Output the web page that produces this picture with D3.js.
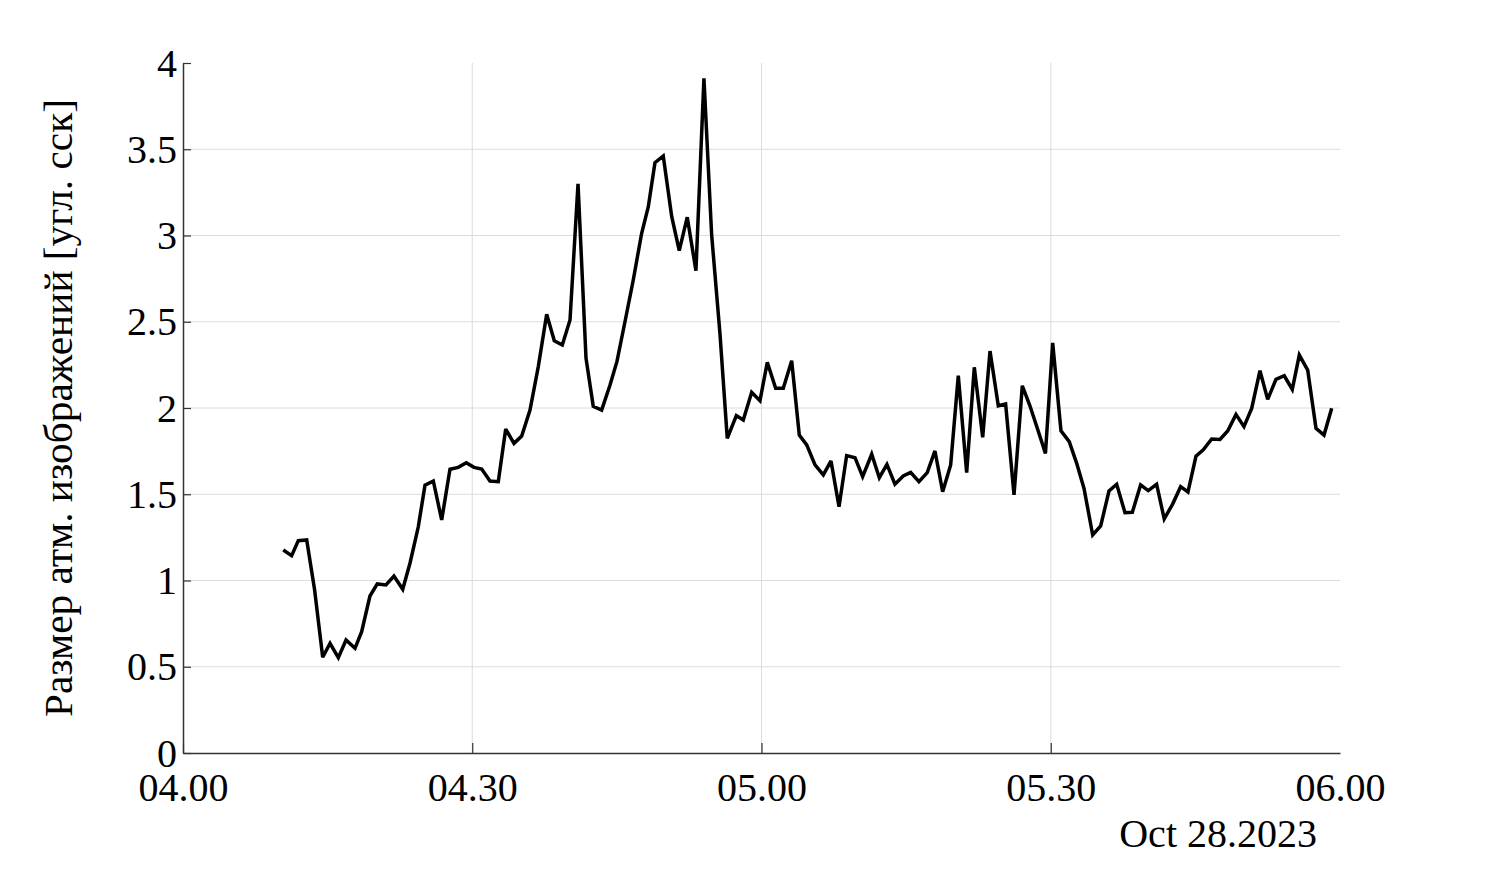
<!DOCTYPE html>
<html>
<head>
<meta charset="utf-8">
<script src="https://cdn.jsdelivr.net/npm/d3@7"></script>
<style>
  html, body { margin: 0; padding: 0; background: #ffffff; }
  svg { display: block; }
  text { font-family: "Liberation Serif", "Times New Roman", serif; fill: #000; }
</style>
</head>
<body>
<svg id="chart" width="1485" height="889"></svg>
<script>
// Minutes after 04:00 on Oct 28, 2023
const minutes = [
  10.40, 11.27, 11.96, 12.83, 13.64, 14.49, 15.25, 16.11, 16.91, 17.84,
  18.53, 19.39, 20.15, 21.05, 21.88, 22.79, 23.54, 24.40, 25.10, 25.96,
  26.83, 27.69, 28.55, 29.38, 30.18, 30.98, 31.84, 32.70, 33.47, 34.33,
  35.13, 35.99, 36.85, 37.72, 38.51, 39.34, 40.14, 40.97, 41.80, 42.55,
  43.42, 44.29, 45.01, 45.84, 46.70, 47.57, 48.26, 48.95, 49.81, 50.69,
  51.47, 52.30, 53.20, 54.03, 54.83, 55.69, 56.45, 57.39, 58.11, 58.98,
  59.84, 60.60, 61.47, 62.26, 63.13, 63.92, 64.69, 65.55, 66.41, 67.21,
  68.04, 68.83, 69.70, 70.49, 71.43, 72.22, 73.01, 73.84, 74.70, 75.47,
  76.33, 77.19, 77.99, 78.79, 79.62, 80.41, 81.28, 82.07, 82.94, 83.70,
  84.56, 85.32, 86.19, 87.05, 87.84, 88.64, 89.45, 90.20, 91.06, 91.92,
  92.69, 93.45, 94.35, 95.18, 96.04, 96.84, 97.70, 98.46, 99.32, 100.11,
  100.98, 101.77, 102.64, 103.47, 104.23, 105.06, 105.82, 106.69, 107.55, 108.35,
  109.21, 110.04, 110.84, 111.70, 112.50, 113.36, 114.22, 115.05, 115.78, 116.65,
  117.51, 118.34, 119.14
];
// Atmospheric image size [arcsec]
const seeing = [
  1.177, 1.144, 1.231, 1.235, 0.95, 0.555, 0.636, 0.553, 0.655, 0.607,
  0.703, 0.91, 0.98, 0.974, 1.026, 0.949, 1.10, 1.31, 1.553, 1.577,
  1.351, 1.645, 1.656, 1.683, 1.656, 1.646, 1.577, 1.573, 1.878, 1.795,
  1.838, 1.988, 2.24, 2.543, 2.39, 2.365, 2.51, 3.30, 2.288, 2.01,
  1.988, 2.133, 2.27, 2.5, 2.742, 3.013, 3.167, 3.422, 3.461, 3.109,
  2.912, 3.106, 2.796, 3.911, 3.003, 2.433, 1.824, 1.956, 1.930, 2.091,
  2.042, 2.265, 2.114, 2.114, 2.274, 1.843, 1.786, 1.67, 1.612, 1.693,
  1.428, 1.724, 1.712, 1.602, 1.732, 1.596, 1.673, 1.558, 1.606, 1.627,
  1.573, 1.625, 1.751, 1.515, 1.67, 2.187, 1.625, 2.236, 1.830, 2.33,
  2.013, 2.023, 1.496, 2.129, 2.013, 1.877, 1.737, 2.377, 1.868, 1.805,
  1.679, 1.534, 1.264, 1.316, 1.519, 1.558, 1.393, 1.395, 1.554, 1.521,
  1.558, 1.357, 1.443, 1.544, 1.513, 1.72, 1.757, 1.820, 1.818, 1.867,
  1.963, 1.892, 1.998, 2.216, 2.05, 2.166, 2.187, 2.108, 2.307, 2.22,
  1.882, 1.843, 1.998
];
const xTickLabels = ["04.00", "04.30", "05.00", "05.30", "06.00"];
const xTickMinutes = [0, 30, 60, 90, 120];
const yTicks = [0, 0.5, 1, 1.5, 2, 2.5, 3, 3.5, 4];
const yTickLabels = ["0", "0.5", "1", "1.5", "2", "2.5", "3", "3.5", "4"];
const yTitle = "Размер атм. изображений [угл. сск]";
const dateLabel = "Oct 28.2023";

const base = new Date(2023, 9, 28, 4, 0, 0);
const toDate = m => new Date(base.getTime() + m * 60000);
const data = minutes.map((m, i) => ({ t: toDate(m), v: seeing[i] }));

const svg = d3.select("#chart");
const L = 183, R = 1340, T = 63, B = 753;

const x = d3.scaleTime().domain([toDate(0), toDate(120)]).range([L, R]);
const y = d3.scaleLinear().domain([0, 4]).range([B, T]);

// Gridlines (interior only)
const grid = svg.append("g");
grid.selectAll("line.h").data(yTicks.slice(1, -1)).join("line")
  .attr("x1", L).attr("x2", R)
  .attr("y1", d => y(d)).attr("y2", d => y(d))
  .attr("stroke", "#dcdcdc").attr("stroke-width", 1);
grid.selectAll("line.v").data(xTickMinutes.slice(1, 4)).join("line")
  .attr("x1", d => x(toDate(d))).attr("x2", d => x(toDate(d)))
  .attr("y1", T).attr("y2", B)
  .attr("stroke", "#dcdcdc").attr("stroke-width", 1);

// Axes
const xAxis = d3.axisBottom(x)
  .tickValues(xTickMinutes.map(toDate))
  .tickFormat((d, i) => xTickLabels[i])
  .tickSizeInner(-10).tickSizeOuter(0).tickPadding(26);
const gx = svg.append("g").attr("transform", `translate(0,${B})`).call(xAxis);
gx.select(".domain").attr("stroke", "#333").attr("stroke-width", 1.5);
gx.selectAll(".tick line").attr("stroke", "#333").attr("stroke-width", 1.2)
  .attr("opacity", (d, i) => (i === xTickMinutes.length - 1 ? 0 : 1));
gx.selectAll(".tick text").attr("font-size", 40).attr("font-family", "Liberation Serif").attr("dy", "0.55em");

const yAxis = d3.axisLeft(y)
  .tickValues(yTicks)
  .tickFormat((d, i) => yTickLabels[i])
  .tickSizeInner(-8).tickSizeOuter(0).tickPadding(6);
const gy = svg.append("g").attr("transform", `translate(${L},0)`).call(yAxis);
gy.select(".domain").attr("stroke", "#333").attr("stroke-width", 1.5);
gy.selectAll(".tick line").attr("stroke", "#333").attr("stroke-width", 1.2);
gy.selectAll(".tick text").attr("font-size", 40).attr("font-family", "Liberation Serif").attr("dy", "0.33em");

// Line
const line = d3.line().x(d => x(d.t)).y(d => y(d.v));
svg.append("path").datum(data)
  .attr("d", line)
  .attr("fill", "none")
  .attr("stroke", "#000")
  .attr("stroke-width", 3.5)
  .attr("stroke-linejoin", "miter")
  .attr("stroke-miterlimit", 3);

// Date label
svg.append("text")
  .attr("x", 1317).attr("y", 847)
  .attr("text-anchor", "end")
  .attr("font-size", 40)
  .text(dateLabel);

// Y title
svg.append("text")
  .attr("transform", `translate(72,${(T + B) / 2}) rotate(-90)`)
  .attr("text-anchor", "middle")
  .attr("font-size", 40)
  .attr("textLength", 618)
  .attr("lengthAdjust", "spacingAndGlyphs")
  .text(yTitle);
</script>
</body>
</html>
